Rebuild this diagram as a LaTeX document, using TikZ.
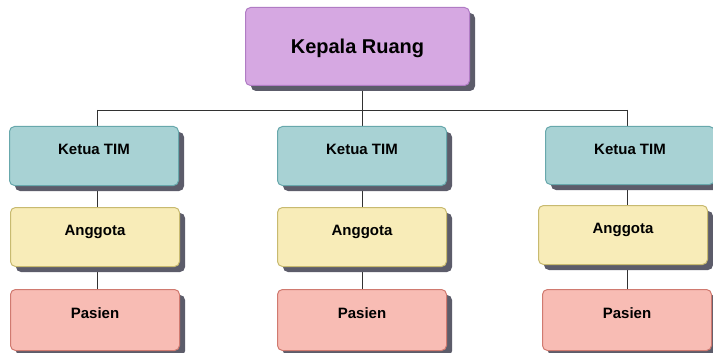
\documentclass[tikz,border=0pt]{standalone}
\usepackage{fontspec}
\setmainfont{Liberation Sans}
\pgfdeclarelayer{bg}
\pgfdeclarelayer{lines}
\pgfdeclarelayer{shad}
\pgfsetlayers{bg,lines,shad,main}
\begin{document}
\begin{tikzpicture}[x=1pt,y=-1pt,
  box/.style={draw, line width=1pt, rounded corners=5pt, inner sep=0pt,
    font=\bfseries\fontsize{15}{17}\selectfont, text height=10.5pt, text depth=13.5pt,
    minimum width=169pt, minimum height=59pt, anchor=north west},
  conn/.style={draw=linec, line width=0.9pt},
  topbox/.style={box, fill=purpf, draw=purpd, minimum width=224pt, minimum height=78pt,
    font=\bfseries\fontsize{20}{23}\selectfont, text height=14.5pt, text depth=0.4pt},
  ketua/.style={box, fill=tealf, draw=teald},
  anggota/.style={box, fill=yelf, draw=yeld},
  pasien/.style={box, fill=pinkf, draw=pinkd, minimum height=61pt}
]
\definecolor{purpf}{RGB}{214,168,226}
\definecolor{purpd}{RGB}{176,124,196}
\definecolor{tealf}{RGB}{168,210,212}
\definecolor{teald}{RGB}{104,168,172}
\definecolor{yelf}{RGB}{248,236,184}
\definecolor{yeld}{RGB}{200,186,112}
\definecolor{pinkf}{RGB}{248,188,180}
\definecolor{pinkd}{RGB}{208,122,112}
\definecolor{shadowc}{RGB}{92,92,106}
\definecolor{linec}{RGB}{50,50,50}
\useasboundingbox (0,0) rectangle (713,353);
\begin{pgfonlayer}{bg}
\fill[white] (0,0) rectangle (713,353);
\end{pgfonlayer}

% shadows
\begin{pgfonlayer}{shad}
\foreach \x/\y/\w/\h in {245/7/224/78,
  9/126/169/59, 10/207/169/59, 10/289/169/61,
  277/126/169/59, 277/207/169/59, 277/289/169/61,
  545/126/169/58, 538/205/169/59, 542/289/169/61}
  \fill[shadowc, rounded corners=5pt] (\x+6,\y+6) rectangle ++(\w,\h);
\end{pgfonlayer}

% boxes
\node[topbox] (kr) at (245,7) {Kepala Ruang};
\node[ketua] (k1) at (9,126) {Ketua TIM};
\node[anggota] (a1) at (10,207) {Anggota};
\node[pasien] (p1) at (10,289) {Pasien};
\node[ketua] (k2) at (277,126) {Ketua TIM};
\node[anggota] (a2) at (277,207) {Anggota};
\node[pasien] (p2) at (277,289) {Pasien};
\node[ketua, minimum height=58pt] (k3) at (545,126) {Ketua TIM};
\node[anggota] (a3) at (538,205) {Anggota};
\node[pasien] (p3) at (542,289) {Pasien};

% connector coordinates
\coordinate (c1) at (97,110);
\coordinate (c2) at (362,110);
\coordinate (c3) at (627,110);

\begin{pgfonlayer}{lines}
\draw[conn] (kr.south -| c2) -- (c2);
\draw[conn] (c1) -- (c3);
\draw[conn] (c1) -- (k1.north -| c1);
\draw[conn] (c2) -- (k2.north -| c2);
\draw[conn] (c3) -- (k3.north -| c3);
\draw[conn] (k1.south -| c1) -- (a1.north -| c1);
\draw[conn] (a1.south -| c1) -- (p1.north -| c1);
\draw[conn] (k2.south -| c2) -- (a2.north -| c2);
\draw[conn] (a2.south -| c2) -- (p2.north -| c2);
\draw[conn] (k3.south -| c3) -- (a3.north -| c3);
\draw[conn] (a3.south -| c3) -- (p3.north -| c3);
\end{pgfonlayer}
\end{tikzpicture}
\end{document}
